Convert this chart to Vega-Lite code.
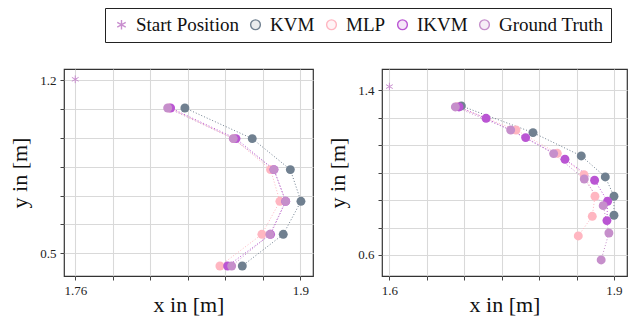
{
  "$schema": "https://vega.github.io/schema/vega-lite/v6.json",
  "padding": {"left": 8, "top": 7, "right": 0, "bottom": 0},
  "background": "white",
  "config": {
    "font": "Liberation Serif",
    "view": {"stroke": "#333333", "strokeWidth": 1.2},
    "axis": {
      "domain": false,
      "grid": true,
      "gridColor": "#d9d9d9",
      "gridWidth": 1.1,
      "tickColor": "#444444",
      "tickSize": 4,
      "labelFont": "Liberation Serif",
      "labelFontSize": 13,
      "labelColor": "#222222",
      "labelPadding": 4,
      "titleFont": "Liberation Serif",
      "titleFontSize": 22,
      "titleFontWeight": "normal",
      "titleColor": "#111111"
    },
    "legend": {
      "orient": "none",
      "legendX": 41,
      "legendY": -61,
      "direction": "horizontal",
      "strokeColor": "#222222",
      "padding": 7,
      "labelFont": "Liberation Serif",
      "labelFontSize": 19,
      "labelColor": "#111111",
      "symbolSize": 95,
      "columnPadding": 7,
      "labelOffset": 5
    }
  },
  "datasets": {
    "pts": [
      {"panel": "A", "series": "Start Position", "i": 0, "x": 1.76, "y": 1.204},
      {"panel": "A", "series": "KVM", "i": 1, "x": 1.8282, "y": 1.088},
      {"panel": "A", "series": "KVM", "i": 2, "x": 1.8701, "y": 0.964},
      {"panel": "A", "series": "KVM", "i": 3, "x": 1.8938, "y": 0.8385},
      {"panel": "A", "series": "KVM", "i": 4, "x": 1.9004, "y": 0.7103},
      {"panel": "A", "series": "KVM", "i": 5, "x": 1.8894, "y": 0.5767},
      {"panel": "A", "series": "KVM", "i": 6, "x": 1.8639, "y": 0.4486},
      {"panel": "A", "series": "MLP", "i": 1, "x": 1.8185, "y": 1.088},
      {"panel": "A", "series": "MLP", "i": 2, "x": 1.8585, "y": 0.964},
      {"panel": "A", "series": "MLP", "i": 3, "x": 1.8815, "y": 0.8385},
      {"panel": "A", "series": "MLP", "i": 4, "x": 1.8873, "y": 0.7103},
      {"panel": "A", "series": "MLP", "i": 5, "x": 1.8761, "y": 0.5767},
      {"panel": "A", "series": "MLP", "i": 6, "x": 1.85, "y": 0.4486},
      {"panel": "A", "series": "IKVM", "i": 1, "x": 1.8193, "y": 1.088},
      {"panel": "A", "series": "IKVM", "i": 2, "x": 1.86, "y": 0.964},
      {"panel": "A", "series": "IKVM", "i": 3, "x": 1.8836, "y": 0.8385},
      {"panel": "A", "series": "IKVM", "i": 4, "x": 1.8909, "y": 0.7103},
      {"panel": "A", "series": "IKVM", "i": 5, "x": 1.8815, "y": 0.5767},
      {"panel": "A", "series": "IKVM", "i": 6, "x": 1.8548, "y": 0.4486},
      {"panel": "A", "series": "Ground Truth", "i": 1, "x": 1.8175, "y": 1.088},
      {"panel": "A", "series": "Ground Truth", "i": 2, "x": 1.8583, "y": 0.964},
      {"panel": "A", "series": "Ground Truth", "i": 3, "x": 1.8836, "y": 0.8385},
      {"panel": "A", "series": "Ground Truth", "i": 4, "x": 1.8909, "y": 0.7103},
      {"panel": "A", "series": "Ground Truth", "i": 5, "x": 1.8811, "y": 0.5767},
      {"panel": "A", "series": "Ground Truth", "i": 6, "x": 1.8573, "y": 0.4486},
      {"panel": "B", "series": "Start Position", "i": 0, "x": 1.6, "y": 1.418},
      {"panel": "B", "series": "KVM", "i": 1, "x": 1.6961, "y": 1.3239},
      {"panel": "B", "series": "KVM", "i": 2, "x": 1.7918, "y": 1.1944},
      {"panel": "B", "series": "KVM", "i": 3, "x": 1.8563, "y": 1.0811},
      {"panel": "B", "series": "KVM", "i": 4, "x": 1.8884, "y": 0.9791},
      {"panel": "B", "series": "KVM", "i": 5, "x": 1.9, "y": 0.8852},
      {"panel": "B", "series": "KVM", "i": 6, "x": 1.9, "y": 0.7929},
      {"panel": "B", "series": "MLP", "i": 1, "x": 1.6903, "y": 1.3207},
      {"panel": "B", "series": "MLP", "i": 2, "x": 1.7691, "y": 1.2073},
      {"panel": "B", "series": "MLP", "i": 3, "x": 1.8243, "y": 1.094},
      {"panel": "B", "series": "MLP", "i": 4, "x": 1.8599, "y": 0.9904},
      {"panel": "B", "series": "MLP", "i": 5, "x": 1.8746, "y": 0.8852},
      {"panel": "B", "series": "MLP", "i": 6, "x": 1.871, "y": 0.788},
      {"panel": "B", "series": "MLP", "i": 7, "x": 1.8523, "y": 0.6925},
      {"panel": "B", "series": "IKVM", "i": 1, "x": 1.693, "y": 1.3191},
      {"panel": "B", "series": "IKVM", "i": 2, "x": 1.7291, "y": 1.264},
      {"panel": "B", "series": "IKVM", "i": 3, "x": 1.782, "y": 1.1701},
      {"panel": "B", "series": "IKVM", "i": 4, "x": 1.8345, "y": 1.0649},
      {"panel": "B", "series": "IKVM", "i": 5, "x": 1.8741, "y": 0.9629},
      {"panel": "B", "series": "IKVM", "i": 6, "x": 1.8915, "y": 0.8609},
      {"panel": "B", "series": "IKVM", "i": 7, "x": 1.8906, "y": 0.767},
      {"panel": "B", "series": "Ground Truth", "i": 1, "x": 1.6881, "y": 1.3191},
      {"panel": "B", "series": "Ground Truth", "i": 2, "x": 1.762, "y": 1.2073},
      {"panel": "B", "series": "Ground Truth", "i": 3, "x": 1.8194, "y": 1.0924},
      {"panel": "B", "series": "Ground Truth", "i": 4, "x": 1.8603, "y": 0.9693},
      {"panel": "B", "series": "Ground Truth", "i": 5, "x": 1.8856, "y": 0.8398},
      {"panel": "B", "series": "Ground Truth", "i": 6, "x": 1.8932, "y": 0.707},
      {"panel": "B", "series": "Ground Truth", "i": 7, "x": 1.8829, "y": 0.5759}
    ]
  },
  "data": {"name": "pts"},
  "resolve": {"scale": {"x": "independent", "y": "independent", "color": "shared", "shape": "shared"}},
  "spacing": 12,
  "hconcat": [
    {
      "width": 249,
      "height": 207,
      "transform": [{"filter": "datum.panel == 'A'"}],
      "encoding": {
        "x": {
          "field": "x", "type": "quantitative",
          "scale": {"domain": [1.753, 1.9079], "nice": false, "zero": false},
          "axis": {
            "title": "x in [m]",
            "values": [1.76, 1.78333, 1.80667, 1.83, 1.85333, 1.87667, 1.9],
            "labelExpr": "datum.value == 1.76 ? '1.76' : (datum.value == 1.9 ? '1.9' : '')",
            "titlePadding": -3
          }
        },
        "y": {
          "field": "y", "type": "quantitative",
          "scale": {"domain": [0.408, 1.2457], "nice": false, "zero": false},
          "axis": {
            "title": "y in [m]",
            "values": [0.5, 0.61667, 0.73333, 0.85, 0.96667, 1.08333, 1.2],
            "labelExpr": "datum.value == 0.5 ? '0.5' : (datum.value == 1.2 ? '1.2' : '')",
            "titlePadding": 8
          }
        },
        "color": {
          "field": "series", "type": "nominal", "title": null,
          "scale": {
            "domain": ["Start Position", "KVM", "MLP", "IKVM", "Ground Truth"],
            "range": ["#c98fcf", "#708090", "#ffb6c1", "#ba55d3", "#c68fcb"]
          },
          "legend": {
            "title": null,
            "encode": {
              "symbols": {
                "update": {
                  "fill": {"scale": "color", "field": "value"},
                  "fillOpacity": {"value": 0.15},
                  "stroke": {"scale": "color", "field": "value"},
                  "strokeWidth": {"value": 1.4},
                  "opacity": {"value": 1}
                }
              }
            }
          }
        },
        "shape": {
          "field": "series", "type": "nominal", "title": null,
          "scale": {
            "domain": ["Start Position", "KVM", "MLP", "IKVM", "Ground Truth"],
            "range": ["M0,-1L0,1M-0.87,-0.5L0.87,0.5M-0.87,0.5L0.87,-0.5", "circle", "circle", "circle", "circle"]
          }
        }
      },
      "layer": [
        {
          "transform": [{"filter": "datum.series != 'Start Position'"}],
          "mark": {"type": "line", "strokeDash": [1, 2], "strokeWidth": 1},
          "encoding": {"order": {"field": "i", "type": "quantitative"}}
        },
        {
          "transform": [{"filter": "datum.series == 'Start Position'"}],
          "mark": {"type": "point", "filled": false, "size": 60, "strokeWidth": 1, "opacity": 1}
        },
        {
          "transform": [{"filter": "datum.series != 'Start Position'"}],
          "mark": {"type": "point", "filled": true, "size": 80, "opacity": 1}
        }
      ]
    },
    {
      "width": 245,
      "height": 207,
      "transform": [{"filter": "datum.panel == 'B'"}],
      "encoding": {
        "x": {
          "field": "x", "type": "quantitative",
          "scale": {"domain": [1.5901, 1.9174], "nice": false, "zero": false},
          "axis": {
            "title": "x in [m]",
            "values": [1.6, 1.65, 1.7, 1.75, 1.8, 1.85, 1.9],
            "labelExpr": "datum.value == 1.6 ? '1.6' : (datum.value == 1.9 ? '1.9' : '')",
            "titlePadding": -3
          }
        },
        "y": {
          "field": "y", "type": "quantitative",
          "scale": {"domain": [0.498, 1.5034], "nice": false, "zero": false},
          "axis": {
            "title": "y in [m]",
            "values": [0.6, 0.73333, 0.86667, 1.0, 1.13333, 1.26667, 1.4],
            "labelExpr": "datum.value == 0.6 ? '0.6' : (datum.value == 1.4 ? '1.4' : '')",
            "titlePadding": 8
          }
        },
        "color": {"field": "series", "type": "nominal", "title": null},
        "shape": {"field": "series", "type": "nominal", "title": null}
      },
      "layer": [
        {
          "transform": [{"filter": "datum.series != 'Start Position'"}],
          "mark": {"type": "line", "strokeDash": [1, 2], "strokeWidth": 1},
          "encoding": {"order": {"field": "i", "type": "quantitative"}}
        },
        {
          "transform": [{"filter": "datum.series == 'Start Position'"}],
          "mark": {"type": "point", "filled": false, "size": 60, "strokeWidth": 1, "opacity": 1}
        },
        {
          "transform": [{"filter": "datum.series != 'Start Position'"}],
          "mark": {"type": "point", "filled": true, "size": 80, "opacity": 1}
        }
      ]
    }
  ]
}
